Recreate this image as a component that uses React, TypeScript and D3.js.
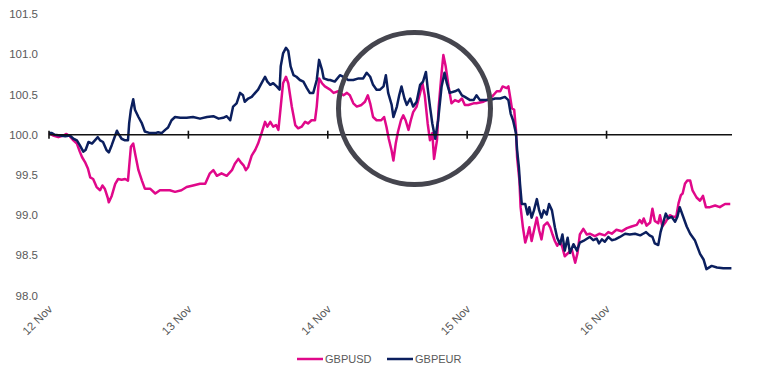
import React from "react";
import * as d3 from "d3";

// Hours since 12 Nov 2018 00:00 (UTC) and index values (start = 100)
const usdHours = [0.0,0.7,1.6,2.5,3.0,3.6,4.2,4.8,5.3,5.7,6.2,6.7,7.1,7.6,8.2,8.8,9.2,9.6,10.1,10.3,10.8,11.4,11.9,12.5,13.1,13.6,13.8,14.1,14.5,14.9,15.4,16.0,16.5,17.4,18.3,19.1,20.0,20.8,21.7,22.8,23.7,24.8,26.0,26.9,27.7,28.3,28.9,29.7,30.6,31.5,32.0,32.6,33.0,33.5,33.9,34.3,34.9,35.5,36.0,36.6,37.2,37.6,38.1,38.6,39.1,39.5,39.9,40.3,40.8,41.2,41.8,42.4,42.9,43.5,44.1,44.6,45.2,45.8,46.1,46.5,47.0,47.5,48.4,49.0,49.8,50.7,51.3,51.8,52.4,53.0,53.8,54.4,54.9,55.3,55.8,56.4,57.2,57.7,58.1,58.5,59.0,59.3,59.7,60.1,60.6,61.0,61.4,61.9,62.3,62.7,63.3,63.9,64.3,64.7,65.2,65.6,66.0,66.3,66.8,67.1,67.6,67.9,68.3,68.8,69.3,69.9,70.5,71.1,71.6,72.2,73.1,73.6,74.8,75.9,76.5,77.1,77.7,78.1,78.8,79.1,79.4,79.7,80.1,80.4,80.6,81.0,81.2,81.6,82.0,82.4,82.7,83.1,83.5,84.0,84.4,84.8,85.2,85.8,86.3,86.7,87.1,87.5,88.0,88.4,88.8,89.4,90.0,90.6,91.0,91.4,92.0,92.6,93.1,94.0,94.8,95.7,96.3,96.9,97.7,98.6,99.5,100.3,101.2,101.7,102.1,102.4,102.9,103.5,103.9,104.3,104.9,105.2,105.6,106.2,106.9,107.5,108.0,108.4,108.8,109.1,109.5,109.9,110.4,110.8,111.5,112.1,112.6,113.1,113.8,114.7,115.5,116.4,117.3];
const usdValues = [100.02,99.99,99.97,99.99,100.01,99.98,99.93,99.89,99.79,99.72,99.66,99.58,99.47,99.45,99.35,99.31,99.37,99.33,99.22,99.16,99.24,99.39,99.45,99.44,99.45,99.43,99.60,99.85,99.89,99.74,99.56,99.43,99.33,99.33,99.27,99.31,99.31,99.31,99.29,99.31,99.35,99.37,99.39,99.39,99.52,99.56,99.49,99.52,99.49,99.56,99.64,99.70,99.66,99.62,99.56,99.60,99.74,99.81,99.89,100.02,100.16,100.10,100.16,100.10,100.12,100.06,100.35,100.64,100.72,100.64,100.35,100.12,100.08,100.10,100.16,100.14,100.18,100.18,100.35,100.70,100.64,100.60,100.56,100.52,100.54,100.49,100.52,100.49,100.39,100.35,100.37,100.41,100.49,100.39,100.22,100.18,100.18,100.22,100.10,99.95,99.80,99.68,99.89,100.04,100.18,100.24,100.18,100.06,100.18,100.28,100.35,100.52,100.64,100.49,100.14,99.93,100.02,99.70,99.93,100.35,100.77,100.99,100.85,100.60,100.39,100.43,100.41,100.45,100.37,100.37,100.39,100.39,100.41,100.45,100.49,100.54,100.54,100.60,100.58,100.60,100.47,100.33,100.31,100.06,99.72,99.43,99.10,98.85,98.66,98.76,98.85,98.68,98.81,98.97,98.81,98.70,98.87,98.91,98.85,98.76,98.68,98.62,98.68,98.60,98.49,98.53,98.58,98.41,98.53,98.76,98.83,98.76,98.77,98.74,98.77,98.75,98.79,98.77,98.82,98.80,98.84,98.86,98.88,98.94,98.90,98.96,98.87,98.91,99.08,98.93,98.90,99.00,98.86,98.92,99.00,98.98,98.98,99.15,99.25,99.27,99.39,99.43,99.43,99.31,99.22,99.18,99.24,99.10,99.10,99.12,99.10,99.14,99.14];

const eurHours = [0.0,0.5,1.0,1.9,2.8,3.6,4.2,4.8,5.3,5.9,6.3,6.8,7.4,7.9,8.4,8.8,9.3,9.9,10.3,10.8,11.4,11.7,11.9,12.5,13.1,13.6,13.8,14.1,14.5,14.8,15.4,16.0,16.5,17.4,18.3,18.8,19.4,20.0,20.5,21.1,21.7,22.6,23.7,24.8,26.0,27.2,28.3,29.2,30.0,30.6,31.2,31.7,32.3,32.9,33.4,33.7,34.3,34.9,35.5,36.0,36.6,37.2,37.6,38.1,38.6,39.2,39.7,39.9,40.3,40.8,41.2,41.6,42.1,42.6,43.2,43.8,44.4,44.9,45.5,46.1,46.5,47.0,47.3,48.1,48.4,49.2,50.1,50.7,51.5,52.4,53.3,54.1,54.7,55.3,55.8,56.4,57.0,57.6,58.0,58.4,59.0,59.3,59.9,60.3,60.7,61.2,61.6,62.2,62.7,63.3,63.9,64.4,64.9,65.2,65.6,66.0,66.5,67.0,67.6,68.1,68.5,69.0,69.9,70.5,71.1,71.6,72.5,73.1,73.6,74.2,75.1,75.9,76.8,77.7,78.5,79.1,79.5,79.9,80.4,80.6,80.9,81.1,81.4,82.0,82.4,82.7,83.1,83.5,84.0,84.4,84.8,85.2,85.7,86.1,86.6,87.1,87.5,88.0,88.4,88.8,89.3,89.7,90.3,90.9,91.4,92.0,93.1,93.7,94.3,94.7,95.2,95.7,96.3,96.9,97.5,98.3,99.2,100.0,100.9,101.8,102.3,102.8,103.4,103.9,104.3,104.9,105.3,105.8,106.2,106.6,107.2,107.8,108.2,108.6,109.1,109.8,110.4,111.2,112.1,112.7,113.2,114.1,115.0,116.1,117.5];
const eurValues = [100.02,100.02,100.00,99.99,99.98,99.99,99.95,99.93,99.87,99.79,99.81,99.91,99.89,99.93,99.97,99.93,99.91,99.81,99.78,99.87,99.99,100.05,100.02,99.95,99.93,99.93,100.14,100.31,100.44,100.31,100.22,100.14,100.04,100.02,100.02,100.03,100.02,100.06,100.09,100.18,100.22,100.21,100.21,100.22,100.20,100.22,100.23,100.20,100.21,100.23,100.18,100.35,100.39,100.52,100.49,100.41,100.45,100.47,100.52,100.56,100.64,100.72,100.66,100.62,100.64,100.60,100.56,100.85,101.01,101.08,101.04,100.85,100.74,100.72,100.68,100.66,100.58,100.52,100.52,100.68,100.93,100.81,100.70,100.68,100.68,100.66,100.74,100.72,100.68,100.68,100.70,100.70,100.77,100.72,100.62,100.56,100.56,100.60,100.74,100.52,100.37,100.22,100.35,100.49,100.60,100.45,100.37,100.45,100.35,100.41,100.62,100.66,100.78,100.58,100.35,100.14,99.95,100.18,100.60,100.77,100.64,100.52,100.54,100.56,100.49,100.47,100.43,100.43,100.49,100.43,100.43,100.43,100.45,100.45,100.47,100.43,100.26,100.18,100.02,99.81,99.60,99.39,99.14,99.14,99.01,99.10,98.97,99.06,99.20,99.06,98.97,99.06,99.01,99.14,99.06,98.85,98.72,98.64,98.76,98.56,98.72,98.53,98.64,98.56,98.66,98.68,98.73,98.69,98.71,98.65,98.70,98.67,98.73,98.69,98.70,98.73,98.77,98.76,98.77,98.75,98.77,98.79,98.75,98.73,98.65,98.63,98.79,98.92,99.02,98.96,98.98,98.92,98.98,99.10,99.00,98.86,98.77,98.69,98.52,98.45,98.33,98.37,98.35,98.34,98.34];

const yTicks = [98.0, 98.5, 99.0, 99.5, 100.0, 100.5, 101.0, 101.5];
const dayTicks = [12, 13, 14, 15, 16];
const seriesNames = ["GBPUSD", "GBPEUR"];
const seriesColors = ["#e0088a", "#0b1f5e"];

const W = 757;
const H = 378;
const t0 = Date.UTC(2018, 10, 12);
const HOUR = 3600 * 1000;

export default function App() {
  const x = d3
    .scaleUtc()
    .domain([new Date(t0), new Date(t0 + 117.6 * HOUR)])
    .range([49, 732]);
  const y = d3.scaleLinear().domain([98, 101.5]).range([295.7, 14]);

  const mk = (hours: number[], vals: number[]) =>
    hours.map((h, i) => ({ d: new Date(t0 + h * HOUR), v: vals[i] }));
  const usd = mk(usdHours, usdValues);
  const eur = mk(eurHours, eurValues);

  const line = d3
    .line<{ d: Date; v: number }>()
    .x((p) => x(p.d))
    .y((p) => y(p.v));

  const fmt = d3.utcFormat("%-d %b");
  const font = "'Liberation Sans', Arial, Helvetica, sans-serif";
  const y100 = y(100);

  return (
    <svg
      width={W}
      height={H}
      viewBox={`0 0 ${W} ${H}`}
      style={{ position: "absolute", left: 0, top: 0, background: "#fff" }}
      fontFamily={font}
    >
      {yTicks.map((t) => (
        <text
          key={t}
          x={38}
          y={y(t)}
          dy="0.35em"
          textAnchor="end"
          fontSize={11.5}
          fill="#595959"
        >
          {t.toFixed(1)}
        </text>
      ))}

      <path d={line(usd) || ""} fill="none" stroke={seriesColors[0]} strokeWidth={2.5} strokeLinejoin="round" />
      <path d={line(eur) || ""} fill="none" stroke={seriesColors[1]} strokeWidth={2.5} strokeLinejoin="round" />

      <line x1={49} x2={732} y1={y100} y2={y100} stroke="#111" strokeWidth={1.6} />
      {dayTicks.map((dd) => {
        const xx = x(new Date(Date.UTC(2018, 10, dd)));
        return (
          <g key={dd}>
            <line x1={xx} x2={xx} y1={y100 - 4} y2={y100 + 4} stroke="#111" strokeWidth={1.6} />
            <text
              transform={`translate(${xx + 4},${310}) rotate(-45)`}
              textAnchor="end"
              fontSize={11.5}
              fill="#595959"
            >
              {fmt(new Date(Date.UTC(2018, 10, dd)))}
            </text>
          </g>
        );
      })}

      <circle cx={414.5} cy={108.5} r={76} fill="none" stroke="#45454e" strokeWidth={5} />

      {seriesNames.map((n, i) => {
        const lx = i === 0 ? 297 : 387;
        return (
          <g key={n}>
            <line x1={lx} x2={lx + 26} y1={359} y2={359} stroke={seriesColors[i]} strokeWidth={2.5} />
            <text x={lx + 28} y={363} fontSize={11} fill="#595959">
              {n}
            </text>
          </g>
        );
      })}
    </svg>
  );
}
